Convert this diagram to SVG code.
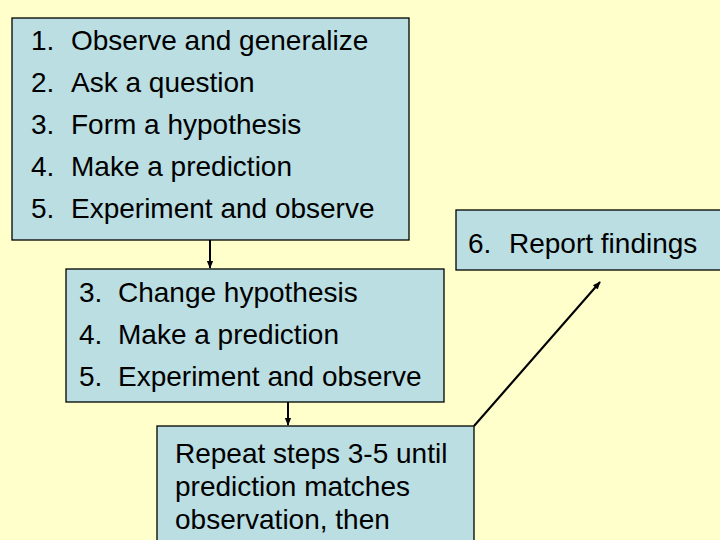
<svg xmlns="http://www.w3.org/2000/svg" width="720" height="540" viewBox="0 0 720 540">
<style>
.box{fill:#BADEE2;stroke:#000;stroke-width:1.3}
.t{font-family:"Liberation Sans",Arial,sans-serif;font-size:28px;fill:#000}
.c{stroke:#000;stroke-width:2;fill:none}
</style>
<defs>
<marker id="ah" viewBox="0 0 10 10" refX="9" refY="5" markerWidth="4" markerHeight="4" orient="auto" markerUnits="strokeWidth">
<path d="M0,1 L10,5 L0,9 z" fill="#000"/>
</marker>
</defs>
<rect width="720" height="540" fill="#FFFFCC"/>
<g id="steps1">
<rect class="box" x="12" y="18" width="397" height="222"/>
<text class="t" x="31" y="50">1.</text><text class="t" x="71" y="50">Observe and generalize</text>
<text class="t" x="31" y="92">2.</text><text class="t" x="71" y="92">Ask a question</text>
<text class="t" x="31" y="134">3.</text><text class="t" x="71" y="134">Form a hypothesis</text>
<text class="t" x="31" y="176">4.</text><text class="t" x="71" y="176">Make a prediction</text>
<text class="t" x="31" y="218">5.</text><text class="t" x="71" y="218">Experiment and observe</text>
</g>
<g id="report">
<rect class="box" x="456" y="210" width="270" height="60"/>
<text class="t" x="468" y="253">6.</text><text class="t" x="509" y="253">Report findings</text>
</g>
<g id="steps2">
<rect class="box" x="66" y="269" width="378" height="133"/>
<text class="t" x="79" y="302">3.</text><text class="t" x="118" y="302">Change hypothesis</text>
<text class="t" x="79" y="344">4.</text><text class="t" x="118" y="344">Make a prediction</text>
<text class="t" x="79" y="386">5.</text><text class="t" x="118" y="386">Experiment and observe</text>
</g>
<g id="repeat">
<rect class="box" x="157" y="426" width="317" height="130"/>
<text class="t" x="175" y="463">Repeat steps 3-5 until</text>
<text class="t" x="175" y="496">prediction matches</text>
<text class="t" x="175" y="529">observation, then</text>
</g>
<g id="connectors">
<line class="c" x1="210" y1="240" x2="210" y2="268" marker-end="url(#ah)"/>
<line class="c" x1="288" y1="402" x2="288" y2="425" marker-end="url(#ah)"/>
<line class="c" x1="474" y1="426" x2="600" y2="282" marker-end="url(#ah)"/>
</g>
</svg>
